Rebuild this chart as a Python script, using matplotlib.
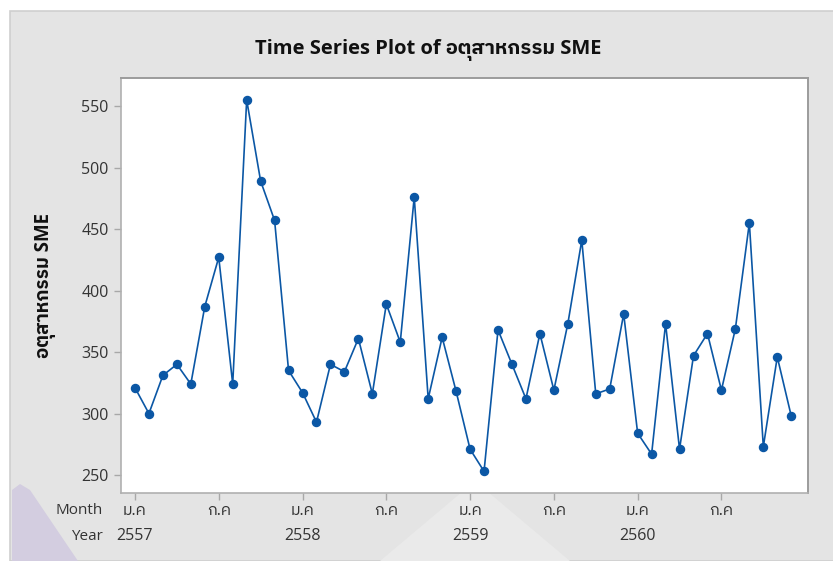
import matplotlib
matplotlib.use("Agg")
import matplotlib.pyplot as plt
from matplotlib import font_manager
from matplotlib.patches import Rectangle, Polygon
from matplotlib.transforms import blended_transform_factory

# monthly SME industry index, ม.ค 2557 .. ธ.ค 2560
sme = [321, 300, 331, 340, 324, 387, 427, 324, 555, 489, 457, 335,
       317, 293, 340, 334, 361, 316, 389, 358, 476, 312, 362, 318,
       271, 253, 368, 340, 312, 365, 319, 373, 441, 316, 320, 381,
       284, 267, 373, 271, 347, 365, 319, 369, 455, 273, 346, 298]
month_labels = ["ม.ค", "ก.ค"]
years = ["2557", "2558", "2559", "2560"]
yticks = [250, 300, 350, 400, 450, 500, 550]

thai = "อตุสาหกรรม"

# pick whatever is installed for latin + thai glyphs
have = {f.name for f in font_manager.fontManager.ttflist}
families = [f for f in ["Open Sans", "IBM Plex Sans Thai", "Noto Sans Thai",
                        "Sarabun", "DejaVu Sans"] if f in have]
plt.rcParams["font.family"] = families

W, H = 833, 561
fig = plt.figure(figsize=(W / 100, H / 100), dpi=100)
fig.patch.set_facecolor("white")

# grey graph region with a faint watermark
fig.patches.append(Rectangle((10 / W, 0), 1, 1 - 11 / H, transform=fig.transFigure,
                             facecolor="#e4e4e4", edgecolor="#cfcfcf", lw=1.2, zorder=-3))
fig.patches.append(Polygon([(380 / W, 0), (570 / W, 0), (475 / W, 80 / H)],
                           transform=fig.transFigure, facecolor="#eaeaea",
                           edgecolor="none", zorder=-2))
fig.patches.append(Polygon([(12 / W, 1 - 490 / H), (20 / W, 1 - 484 / H), (30 / W, 1 - 490 / H),
                            (78 / W, 0), (12 / W, 0)],
                           transform=fig.transFigure, facecolor="#d3cde0",
                           edgecolor="none", zorder=-2))

ax = fig.add_axes([121 / W, 1 - 493 / H, (808 - 121) / W, (493 - 78) / H])
ax.set_facecolor("white")

x = list(range(len(sme)))
ax.plot(x, sme, color="#0b57a5", lw=1.2, marker="o", ms=5.8, zorder=3)

ax.set_xlim(-1.0, 48.2)
ax.set_ylim(235.4, 572.8)
ax.set_yticks(yticks)
ax.set_yticklabels([str(v) for v in yticks])

ticks = list(range(0, len(sme), 6))
ax.set_xticks(ticks)
ax.set_xticklabels([month_labels[i % 2] for i in range(len(ticks))])

ax.tick_params(axis="both", direction="out", length=5, width=1, color="#a8a8a8",
               labelsize=11.5, labelcolor="#333333")
ax.tick_params(axis="x", pad=2)
ax.tick_params(axis="y", pad=4)

for side in ["left", "bottom"]:
    ax.spines[side].set_color("#b0b0b0")
    ax.spines[side].set_linewidth(1.2)
for side in ["right", "top"]:
    ax.spines[side].set_color("#9c9c9c")
    ax.spines[side].set_linewidth(1.4)

# second row of the time scale: years
tr = blended_transform_factory(ax.transData, fig.transFigure)
for i, yr in enumerate(years):
    ax.text(i * 12, 1 - 536 / H, yr, transform=tr, ha="center", va="center",
            fontsize=11.5, color="#333333")
fig.text(103 / W, 1 - 510 / H, "Month", ha="right", va="center", fontsize=11, color="#333333")
fig.text(103 / W, 1 - 536 / H, "Year", ha="right", va="center", fontsize=11, color="#333333")

fig.text(428 / W, 1 - 50 / H, "Time Series Plot of " + thai + " SME", ha="center", va="center",
         fontsize=14.5, fontweight="bold", color="#111111")
fig.text(45 / W, 1 - 285 / H, thai + " SME", ha="center", va="center", rotation=90,
         fontsize=13.5, fontweight="bold", color="#111111")

fig.savefig("out.png", dpi=100)
